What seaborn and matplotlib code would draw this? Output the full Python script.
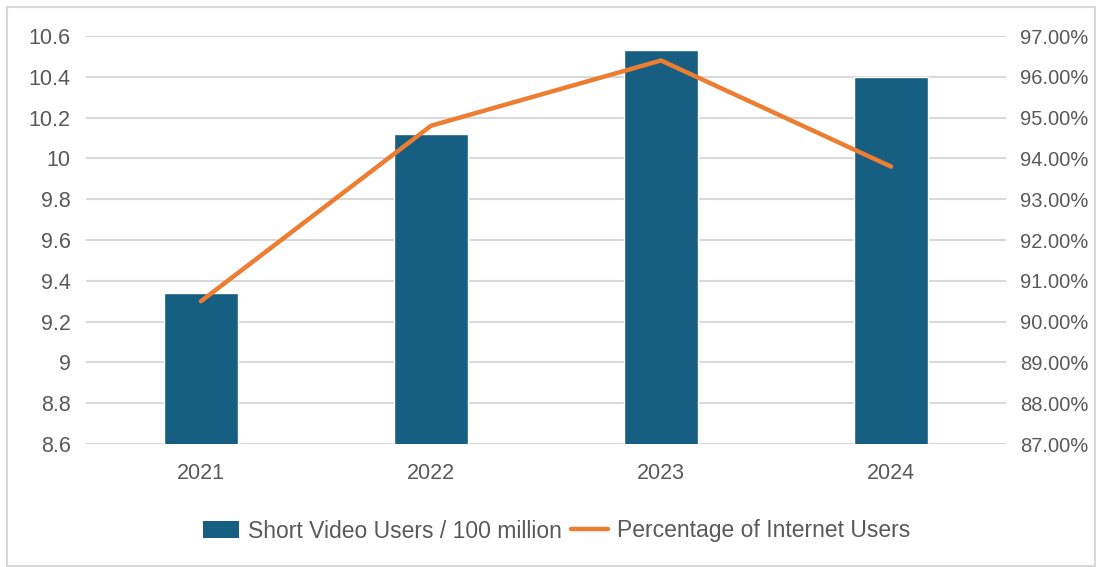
import matplotlib
matplotlib.use('Agg')
import matplotlib.pyplot as plt
import seaborn as sns
import pandas as pd
from matplotlib.patches import Rectangle, Patch
from matplotlib.lines import Line2D
from matplotlib.ticker import FuncFormatter

# Дані з графіка
years = ['2021', '2022', '2023', '2024']
users = [9.34, 10.12, 10.53, 10.40]  # Short Video Users / 100 million
share = [90.5, 94.8, 96.4, 93.8]  # Percentage of Internet Users, %

bar_color = '#175F82'
line_color = '#ED7D31'
text_color = '#595959'
grid_color = '#D9D9D9'

sns.set_theme(style='white')
plt.rcParams['font.family'] = ['Liberation Sans', 'DejaVu Sans']

df = pd.DataFrame({'year': years, 'users': users, 'share': share})

fig = plt.figure(figsize=(11.02, 5.67), dpi=100)
ax = fig.add_axes([86 / 1102, 1 - 444 / 567, 920 / 1102, 408 / 567])

# рамка навколо всієї фігури
fig.patches.append(Rectangle((7 / 1102, 0.002), 1 - 14 / 1102, 1 - 7 / 567 - 0.002,
                             transform=fig.transFigure, fill=False,
                             edgecolor=grid_color, linewidth=1.5))

sns.barplot(data=df, x='year', y='users', color=bar_color, width=0.32,
            saturation=1, ax=ax, zorder=2)
ax.set_ylim(8.6, 10.6)
ax.set_yticks([8.6 + 0.2 * i for i in range(11)])
ax.yaxis.set_major_formatter(FuncFormatter(lambda v, p: f'{v:.1f}'.rstrip('0').rstrip('.')))
ax.set_xlim(-0.5, 3.5)
ax.grid(axis='y', color=grid_color, linewidth=1.5, zorder=0)
ax.set_axisbelow(True)
ax.set_xlabel('')
ax.set_ylabel('')

ax2 = ax.twinx()
sns.lineplot(data=df, x='year', y='share', color=line_color, linewidth=3.2,
             ax=ax2, solid_capstyle='round', zorder=3)
ax2.set_ylim(87, 97)
ax2.set_yticks(range(87, 98))
ax2.yaxis.set_major_formatter(FuncFormatter(lambda v, p: f'{v:.2f}%'))
ax2.set_ylabel('')

for a in (ax, ax2):
    for s in a.spines.values():
        s.set_visible(False)
    a.tick_params(length=0, labelsize=15.5, colors=text_color)
ax.tick_params(axis='y', pad=11)
ax.tick_params(axis='x', pad=14)
ax2.tick_params(axis='y', pad=10, labelsize=14.5)

handles = [Patch(facecolor=bar_color, edgecolor='none'),
           Line2D([0], [0], color=line_color, linewidth=3.2, solid_capstyle='round')]
labels = ['Short Video Users / 100 million', 'Percentage of Internet Users']
fig.legend(handles, labels, loc='center', bbox_to_anchor=(0.505, 1 - 531 / 567),
           ncol=2, frameon=False, fontsize=16.5, labelcolor=text_color,
           handlelength=1.6, handletextpad=0.4, columnspacing=0.4)

fig.savefig('out.png', dpi=100)
